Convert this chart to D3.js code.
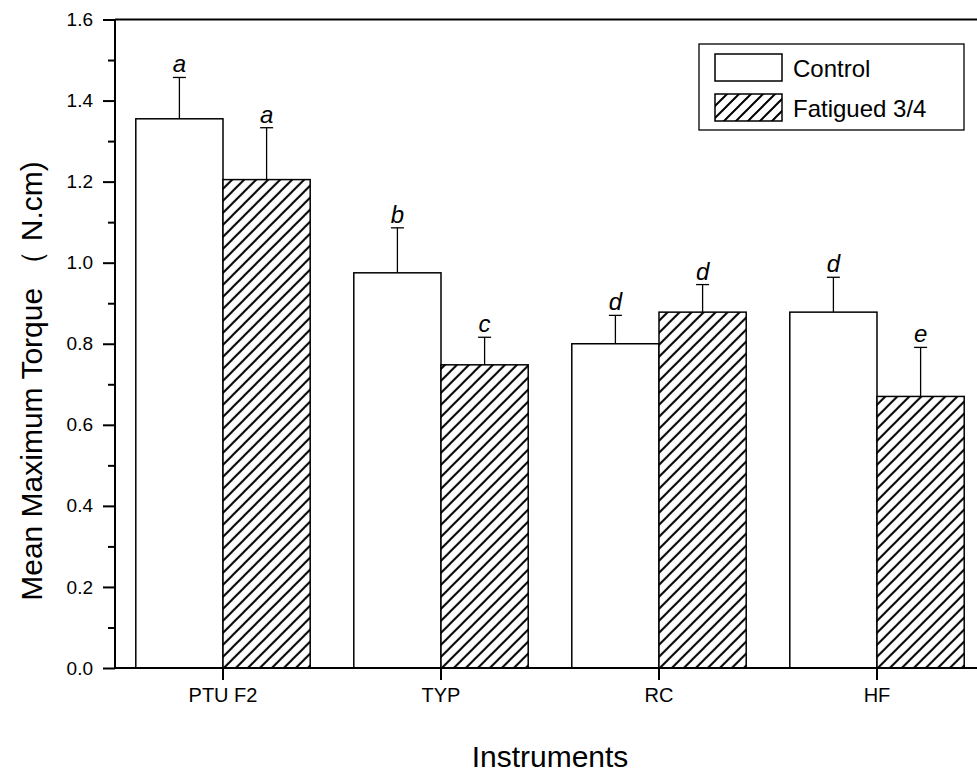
<!DOCTYPE html>
<html>
<head>
<meta charset="utf-8">
<script src="https://cdn.jsdelivr.net/npm/d3@7"></script>
<style>
  body { margin: 0; background: #fff; }
  text { font-family: Arial, "Liberation Sans", sans-serif; }
</style>
</head>
<body>
<div id="chart"></div>
<script>
// data
var instruments = ["PTU F2", "TYP", "RC", "HF"];
var groups = ["Control", "Fatigued 3/4"];
var controlMean = [1.355, 0.975, 0.800, 0.878];
var controlSD = [0.102, 0.111, 0.070, 0.086];
var fatiguedMean = [1.205, 0.748, 0.878, 0.670];
var fatiguedSD = [0.128, 0.068, 0.068, 0.121];
var controlLetters = ["a", "b", "d", "d"];
var fatiguedLetters = ["a", "c", "d", "e"];
var yTicks = [0, 0.2, 0.4, 0.6, 0.8, 1.0, 1.2, 1.4, 1.6];
var yMinorTicks = [0.1, 0.3, 0.5, 0.7, 0.9, 1.1, 1.3, 1.5];

var svgWidth = 977;
var svgHeight = 778;

var margin = { top: 19.5, left: 115, bottom: 110 };
var plotBottom = svgHeight - margin.bottom; // 668

var svg = d3.select("#chart")
  .append("svg")
  .attr("width", svgWidth)
  .attr("height", svgHeight);

// hatch pattern for the fatigued bars
var defs = svg.append("defs");
var hatch = defs.append("pattern")
  .attr("id", "hatch")
  .attr("patternUnits", "userSpaceOnUse")
  .attr("width", 12)
  .attr("height", 12);
hatch.append("rect").attr("width", 12).attr("height", 12).attr("fill", "#fff");
hatch.append("path")
  .attr("d", "M-3,3 L3,-3 M0,12 L12,0 M9,15 L15,9")
  .attr("stroke", "#000")
  .attr("stroke-width", 2);

// rows built from the arrays
var rows = instruments.map(function(name, i) {
  return {
    name: name,
    values: [
      { group: groups[0], mean: controlMean[i], sd: controlSD[i], letter: controlLetters[i] },
      { group: groups[1], mean: fatiguedMean[i], sd: fatiguedSD[i], letter: fatiguedLetters[i] }
    ]
  };
});

// scales (plot runs past the right edge of the picture)
var xScale = d3.scaleBand()
  .domain(instruments)
  .range([114, 986])
  .paddingInner(0.2)
  .paddingOuter(0.1);

var xInner = d3.scaleBand()
  .domain(groups)
  .range([0, xScale.bandwidth()]);

var yScale = d3.scaleLinear()
  .domain([0, 1.6])
  .range([plotBottom, margin.top]);

// bars
var barGroup = svg.selectAll(".barGroup")
  .data(rows).enter().append("g")
  .attr("class", "barGroup")
  .attr("transform", function(d) { return "translate(" + xScale(d.name) + ",0)"; });

var bar = barGroup.selectAll(".bar")
  .data(function(d) { return d.values; })
  .enter().append("g")
  .attr("class", "bar");

// error bars (upper only)
bar.append("line")
  .attr("x1", function(d) { return xInner(d.group) + xInner.bandwidth() / 2; })
  .attr("x2", function(d) { return xInner(d.group) + xInner.bandwidth() / 2; })
  .attr("y1", function(d) { return yScale(d.mean); })
  .attr("y2", function(d) { return yScale(d.mean + d.sd); })
  .attr("stroke", "#000")
  .attr("stroke-width", 1.3);

bar.append("line")
  .attr("x1", function(d) { return xInner(d.group) + xInner.bandwidth() / 2 - 6.5; })
  .attr("x2", function(d) { return xInner(d.group) + xInner.bandwidth() / 2 + 6.5; })
  .attr("y1", function(d) { return yScale(d.mean + d.sd); })
  .attr("y2", function(d) { return yScale(d.mean + d.sd); })
  .attr("stroke", "#000")
  .attr("stroke-width", 1.3);

bar.append("rect")
  .attr("x", function(d) { return xInner(d.group); })
  .attr("y", function(d) { return yScale(d.mean); })
  .attr("width", xInner.bandwidth())
  .attr("height", function(d) { return plotBottom - yScale(d.mean); })
  .attr("fill", function(d) { return d.group === groups[0] ? "#fff" : "url(#hatch)"; })
  .attr("stroke", "#000")
  .attr("stroke-width", 1.5);

bar.append("text")
  .attr("x", function(d) { return xInner(d.group) + xInner.bandwidth() / 2; })
  .attr("y", function(d) { return yScale(d.mean + d.sd) - 5; })
  .attr("text-anchor", "middle")
  .attr("font-size", 24)
  .attr("font-style", "italic")
  .text(function(d) { return d.letter; });

// axes
var yAxis = d3.axisLeft(yScale)
  .tickValues(yTicks)
  .tickFormat(d3.format(".1f"))
  .tickSize(12)
  .tickPadding(10);

var yAxisMinor = d3.axisLeft(yScale)
  .tickValues(yMinorTicks)
  .tickFormat("")
  .tickSize(7);

var xAxis = d3.axisBottom(xScale)
  .tickSize(12)
  .tickPadding(8);

var gx = svg.append("g")
  .attr("transform", "translate(0," + plotBottom + ")")
  .call(xAxis);
gx.select(".domain").attr("d", "M114,0H986");

var gy = svg.append("g")
  .attr("transform", "translate(" + margin.left + ",0)")
  .call(yAxis);
gy.select(".domain").attr("d", "M0," + plotBottom + "V" + margin.top);

var gyMinor = svg.append("g")
  .attr("transform", "translate(" + margin.left + ",0)")
  .call(yAxisMinor);
gyMinor.select(".domain").remove();

svg.selectAll(".tick line").attr("stroke-width", 2);
svg.selectAll(".domain").attr("stroke-width", 2);
gy.selectAll(".tick text").attr("font-size", 19).attr("font-family", "Arial, 'Liberation Sans', sans-serif");
gx.selectAll(".tick text").attr("font-size", 20).attr("font-family", "Arial, 'Liberation Sans', sans-serif");

// top frame line
svg.append("line")
  .attr("x1", margin.left)
  .attr("x2", svgWidth)
  .attr("y1", margin.top)
  .attr("y2", margin.top)
  .attr("stroke", "#000")
  .attr("stroke-width", 2);

// axis titles
svg.append("text")
  .attr("x", 550)
  .attr("y", 767)
  .attr("text-anchor", "middle")
  .attr("font-size", 30)
  .text("Instruments");

svg.append("text")
  .attr("transform", "translate(42,381) rotate(-90)")
  .attr("text-anchor", "middle")
  .attr("font-size", 30)
  .text("Mean Maximum Torque （ N.cm)");

// legend
var legend = svg.append("g");
legend.append("rect")
  .attr("x", 699).attr("y", 44)
  .attr("width", 265).attr("height", 86)
  .attr("fill", "#fff")
  .attr("stroke", "#000")
  .attr("stroke-width", 1.3);

var legendItem = legend.selectAll(".legendItem")
  .data(groups).enter().append("g")
  .attr("class", "legendItem")
  .attr("transform", function(d, i) { return "translate(715," + (54 + i * 40) + ")"; });

legendItem.append("rect")
  .attr("width", 67)
  .attr("height", 27)
  .attr("fill", function(d, i) { return i === 0 ? "#fff" : "url(#hatch)"; })
  .attr("stroke", "#000")
  .attr("stroke-width", 1.5);

legendItem.append("text")
  .attr("x", 78)
  .attr("y", 23)
  .attr("font-size", 24)
  .text(function(d) { return d; });
</script>
</body>
</html>
